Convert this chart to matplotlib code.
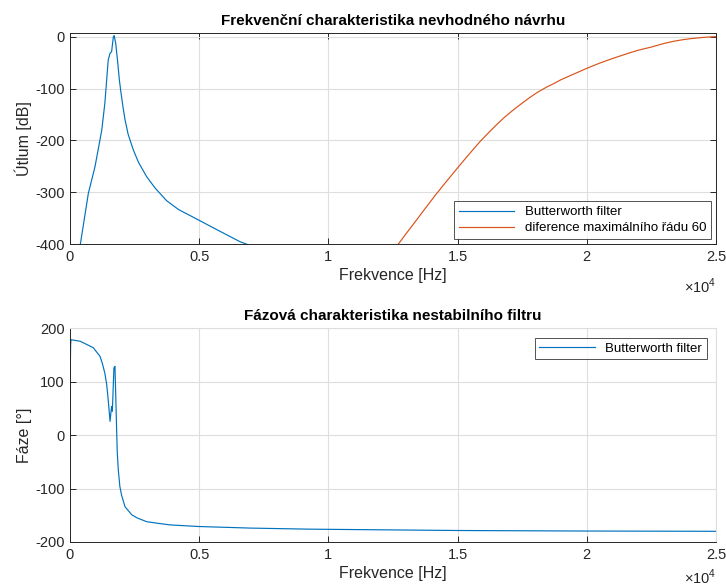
import matplotlib
matplotlib.use("Agg")
import matplotlib.pyplot as plt

plt.rcParams['font.family'] = ['Liberation Sans', 'DejaVu Sans']
plt.rcParams['mathtext.fontset'] = 'custom'
plt.rcParams['mathtext.rm'] = 'Liberation Sans'
plt.rcParams['axes.unicode_minus'] = False

# ---- data ----
mag_f = [400, 710, 970, 1230, 1350, 1420, 1480, 1550, 1610, 1680, 1710, 1770,
         1850, 1910, 1960, 2050, 2130, 2250, 2450, 2650, 2970, 3300, 3740, 4200,
         4970, 5500, 6000, 6580, 6850]
mag_db = [-400, -302, -250, -180, -128, -83, -45, -32, -29, 0, 2, -13,
          -51, -83, -103, -135, -160, -188, -218, -242, -270, -292, -316, -333,
          -353, -367, -380, -395, -400]

diff_f = [12700, 13000, 13400, 13700, 14130, 14500, 15030, 15400, 15870, 16200,
          16500, 16800, 17160, 17500, 17800, 18100, 18450, 18700, 19000, 19500,
          20000, 20500, 21000, 21670, 22000, 22500, 23000, 23350, 23700, 24000,
          24500, 24960, 25000]
diff_db = [-400, -380, -354, -334, -306, -283, -251, -229, -202, -185,
           -170, -156, -141, -128, -117, -107, -97, -91, -83, -72,
           -61, -51, -42, -31, -26, -20, -13, -9, -6, -4,
           -1.5, 0, 0]

ph_f = [0, 10, 25, 40, 400, 900, 1160, 1250, 1350, 1420, 1460, 1500, 1550, 1610,
        1640, 1700, 1740, 1770, 1810, 1830, 1870, 1930, 2000, 2130, 2390, 2600,
        2970, 3400, 3870, 4970, 7000, 9290, 15000, 20000, 25000]
ph_deg = [0, 120, 170, 179, 176, 164, 148, 135, 116, 95, 76, 55, 26, 54,
          45, 126, 129, 76, 1, -33, -65, -96, -113, -134, -149, -155,
          -162, -165, -168, -171, -174, -176, -178.5, -179.5, -180]

x_ticks = [0, 5000, 10000, 15000, 20000, 25000]
x_ticklabels = ['0', '0.5', '1', '1.5', '2', '2.5']
mag_yticks = [0, -100, -200, -300, -400]
ph_yticks = [200, 100, 0, -100, -200]

BLUE = '#0072BD'
ORANGE = '#D95319'
AX = '#262626'
GRID = '#dedede'

fig = plt.figure(figsize=(7.26, 5.87), dpi=100)
ax1 = fig.add_axes([0.0964, 0.5838, 0.8898, 0.3595])
ax2 = fig.add_axes([0.0964, 0.0767, 0.8898, 0.3637])


def style(ax, box):
    ax.set_facecolor('white')
    ax.grid(True, color=GRID, linewidth=0.8)
    ax.set_axisbelow(True)
    for s in ['left', 'bottom']:
        ax.spines[s].set_color(AX)
        ax.spines[s].set_linewidth(0.7)
    for s in ['top', 'right']:
        if box:
            ax.spines[s].set_color(AX)
            ax.spines[s].set_linewidth(0.7)
        else:
            ax.spines[s].set_color(GRID)
            ax.spines[s].set_linewidth(0.8)
    ax.tick_params(direction='in', length=4, width=0.7, color=AX,
                   labelsize=10.5, labelcolor=AX, top=box, right=box, pad=4)
    ax.set_xticks(x_ticks)
    ax.set_xticklabels(x_ticklabels)
    ax.set_xlim(0, 25000)


# top
style(ax1, True)
ax1.plot(mag_f, mag_db, color=BLUE, lw=0.85, label='Butterworth filter')
ax1.plot(diff_f, diff_db, color=ORANGE, lw=0.85, label='diference maximálního řádu 60')
ax1.set_ylim(-400, 6.5)
ax1.set_yticks(mag_yticks)
ax1.set_title('Frekvenční charakteristika nevhodného návrhu', fontsize=11,
              fontweight='bold', color='black', pad=6)
ax1.set_xlabel('Frekvence [Hz]', fontsize=11.5, color=AX, labelpad=3)
ax1.set_ylabel('Útlum [dB]', fontsize=11.5, color=AX, labelpad=2)
leg1 = ax1.legend(loc='lower right', fontsize=9.5, frameon=True, fancybox=False,
                  edgecolor=AX, borderaxespad=0.4, handlelength=4.2,
                  borderpad=0.35, labelspacing=0.3)
leg1.get_frame().set_linewidth(0.7)
ax1.text(1.0, -0.155, r'$\times10^{4}$', transform=ax1.transAxes, ha='right',
         va='top', fontsize=10.5, color=AX)

# bottom
style(ax2, False)
ax2.plot(ph_f, ph_deg, color=BLUE, lw=0.85, label='Butterworth filter')
ax2.set_ylim(-200, 200)
ax2.set_yticks(ph_yticks)
ax2.set_title('Fázová charakteristika nestabilního filtru', fontsize=11,
              fontweight='bold', color='black', pad=6)
ax2.set_xlabel('Frekvence [Hz]', fontsize=11.5, color=AX, labelpad=3)
ax2.set_ylabel('Fáze [°]', fontsize=11.5, color=AX, labelpad=2)
leg2 = ax2.legend(loc='upper right', fontsize=9.5, frameon=True, fancybox=False,
                  edgecolor=AX, borderaxespad=0.7, handlelength=4.2,
                  borderpad=0.35)
leg2.get_frame().set_linewidth(0.7)
ax2.text(1.0, -0.12, r'$\times10^{4}$', transform=ax2.transAxes, ha='right',
         va='top', fontsize=10.5, color=AX)

fig.savefig('out.png', dpi=100)
